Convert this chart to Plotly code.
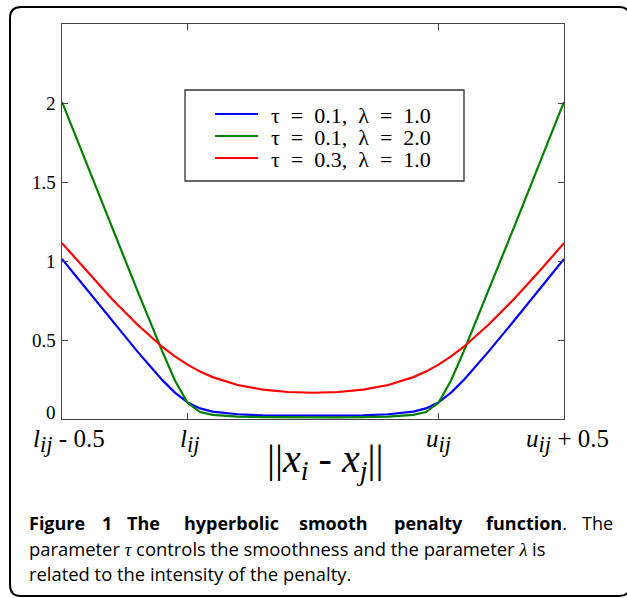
import plotly.graph_objects as go

# ---------------- data ----------------
x_vals = [-0.5, -0.4, -0.3, -0.2, -0.1, -0.05, 0.0, 0.05, 0.1, 0.2, 0.3, 0.4, 0.5,
          0.6, 0.7, 0.8, 0.9, 0.95, 1.0, 1.05, 1.1, 1.2, 1.3, 1.4, 1.5]
blue_vals = [1.013, 0.816, 0.620, 0.428, 0.246, 0.167, 0.105, 0.067, 0.047, 0.030, 0.023, 0.021, 0.020,
             0.021, 0.023, 0.030, 0.047, 0.067, 0.105, 0.167, 0.246, 0.428, 0.620, 0.816, 1.013]
green_vals = [2.007, 1.608, 1.210, 0.814, 0.426, 0.244, 0.103, 0.044, 0.026, 0.015, 0.012, 0.010, 0.010,
              0.010, 0.012, 0.015, 0.026, 0.044, 0.103, 0.244, 0.426, 0.814, 1.210, 1.608, 2.007]
red_vals = [1.113, 0.932, 0.758, 0.598, 0.456, 0.396, 0.344, 0.300, 0.265, 0.215, 0.186, 0.171, 0.166,
            0.171, 0.186, 0.215, 0.265, 0.300, 0.344, 0.396, 0.456, 0.598, 0.758, 0.932, 1.113]
series_names = ["τ\u2002=\u20020.1,\u2002λ\u2002=\u20021.0",
                "τ\u2002=\u20020.1,\u2002λ\u2002=\u20022.0",
                "τ\u2002=\u20020.3,\u2002λ\u2002=\u20021.0"]
series_colors = ["#0000FF", "#008000", "#FF0000"]

SUB = '<sub><span style="font-size:130%"><i>{}</i></span></sub>'
x_tickvals = [-0.5, 0.0, 1.0, 1.5]
x_ticktext = ["<i>l</i>" + SUB.format("ij") + " - 0.5",
              "<i>l</i>" + SUB.format("ij"),
              "<i>u</i>" + SUB.format("ij"),
              "<i>u</i>" + SUB.format("ij") + " + 0.5"]
x_label_shift = [7, 2, 0, 3]
y_tickvals = [0, 0.5, 1, 1.5, 2]
y_ticktext = ["0", "0.5", "1", "1.5", "2"]
y_label_shift = [7, 0, 0, 0, 0]

# ---------------- layout geometry (pixels) ----------------
W, H = 627, 598
ML, MR, MT, MB = 62, 63, 24, 179
PW = W - ML - MR
PH = H - MT - MB


def px(xp):
    return (xp - ML) / PW


def py(yp):
    return (H - MB - yp) / PH


SERIF = "Liberation Serif, Times New Roman, serif"
SANS = "Open Sans, Noto Sans, sans-serif"
CAP_SIZE = 18

fig = go.Figure()
for yv, name, col in zip([blue_vals, green_vals, red_vals], series_names, series_colors):
    fig.add_trace(go.Scatter(x=x_vals, y=yv, mode="lines", name=name,
                             line=dict(color=col, width=2.2), showlegend=False))

shapes = []
annotations = []

# tick labels (MATLAB keeps the end labels inside, so they are placed as annotations)
for v, t, s in zip(x_tickvals, x_ticktext, x_label_shift):
    annotations.append(dict(text=t, xref="x", yref="paper", x=v, y=py(423), xshift=s,
                            xanchor="center", yanchor="top", showarrow=False,
                            font=dict(family=SERIF, size=25, color="black")))
for v, t, s in zip(y_tickvals, y_ticktext, y_label_shift):
    annotations.append(dict(text=t, xref="paper", yref="y", x=px(58), y=v, yshift=s,
                            xanchor="right", yanchor="middle", showarrow=False,
                            font=dict(family=SERIF, size=19, color="black")))

# legend (manual, tight rows like the original)
shapes.append(dict(type="rect", xref="paper", yref="paper",
                   x0=px(185), x1=px(464), y0=py(181), y1=py(90),
                   line=dict(color="#333333", width=1.3), fillcolor="white", layer="above"))
for i, (name, col) in enumerate(zip(series_names, series_colors)):
    yy = 114 + i * 22
    shapes.append(dict(type="line", xref="paper", yref="paper",
                       x0=px(215), x1=px(258), y0=py(yy), y1=py(yy),
                       line=dict(color=col, width=2.2), layer="above"))
    annotations.append(dict(text=name, xref="paper", yref="paper", x=px(269), y=py(yy + 1),
                            xanchor="left", yanchor="middle", showarrow=False,
                            font=dict(family=SERIF, size=22, color="black")))

# x axis title
TSUB = '<sub><i>{}</i></sub>'
annotations.append(dict(text="||<i>x</i>" + TSUB.format("i") + " - <i>x</i>" + TSUB.format("j") + "||",
                        xref="paper", yref="paper", x=px(325), y=py(461),
                        xanchor="center", yanchor="middle", showarrow=False,
                        font=dict(family=SERIF, size=40, color="black")))

# caption line 1 (justified: placed word by word)
line1_words = [("<b>Figure</b>", 27), ("<b>1</b>", 100), ("<b>The</b>", 125),
               ("<b>hyperbolic</b>", 182), ("<b>smooth</b>", 297), ("<b>penalty</b>", 392),
               ("<b>function</b>.", 484), ("The", 580)]
for txt, xl in line1_words:
    annotations.append(dict(text=txt, xref="paper", yref="paper", x=px(xl), y=py(523),
                            xanchor="left", yanchor="middle", showarrow=False,
                            font=dict(family=SANS, size=CAP_SIZE, color="black")))
GREEK = '<span style="font-family:Liberation Serif"><i>{}</i></span>'
annotations.append(dict(text="parameter " + GREEK.format("τ") + " controls the smoothness and the parameter "
                        + GREEK.format("λ") + " is",
                        xref="paper", yref="paper", x=px(27), y=py(548),
                        xanchor="left", yanchor="middle", showarrow=False,
                        font=dict(family=SANS, size=CAP_SIZE + 0.4, color="black")))
annotations.append(dict(text="related to the intensity of the penalty.",
                        xref="paper", yref="paper", x=px(27), y=py(573),
                        xanchor="left", yanchor="middle", showarrow=False,
                        font=dict(family=SANS, size=CAP_SIZE + 0.4, color="black")))

# rounded outer border
r = 11
x0b, x1b, y0b, y1b = 10, 630, 7, 596
path = (f"M {px(x0b)},{py(y0b + r)} "
        f"Q {px(x0b)},{py(y0b)} {px(x0b + r)},{py(y0b)} "
        f"L {px(x1b - r)},{py(y0b)} "
        f"Q {px(x1b)},{py(y0b)} {px(x1b)},{py(y0b + r)} "
        f"L {px(x1b)},{py(y1b - r)} "
        f"Q {px(x1b)},{py(y1b)} {px(x1b - r)},{py(y1b)} "
        f"L {px(x0b + r)},{py(y1b)} "
        f"Q {px(x0b)},{py(y1b)} {px(x0b)},{py(y1b - r)} Z")
shapes.append(dict(type="path", xref="paper", yref="paper", path=path,
                   line=dict(color="black", width=2), layer="above"))

axis_common = dict(showline=True, linecolor="#444444", linewidth=1, mirror="ticks",
                   ticks="inside", ticklen=6, tickcolor="#444444", tickwidth=1,
                   showticklabels=False, showgrid=False, zeroline=False, fixedrange=True)

fig.update_layout(
    width=W, height=H,
    margin=dict(l=ML, r=MR, t=MT, b=MB, pad=0),
    paper_bgcolor="white", plot_bgcolor="white",
    xaxis=dict(range=[-0.5, 1.5], tickmode="array", tickvals=x_tickvals, **axis_common),
    yaxis=dict(range=[0, 2.5], tickmode="array", tickvals=y_tickvals, **axis_common),
    shapes=shapes,
    annotations=annotations,
    showlegend=False,
)

fig.write_html("out.html", config={"displayModeBar": False},
               post_script="document.body.style.margin='0';document.body.style.overflow='hidden';")
